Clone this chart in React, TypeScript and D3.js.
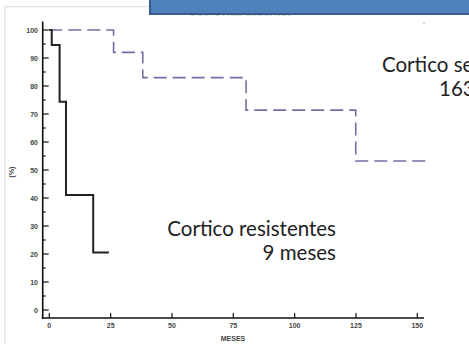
import { useEffect, useRef } from 'react';
import * as d3 from 'd3';

// Kaplan-Meier steps (months, % surviving)
const resistMonths = [0, 1, 4.2, 6.8, 17.9, 24.3];
const resistPct = [100, 94.6, 74.4, 41.1, 20.5, 20.5];
const sensMonths = [0, 26.2, 38.1, 80.2, 124.9, 155.2];
const sensPct = [100, 92.0, 83.0, 71.4, 53.2, 53.2];

const xTicks = [0, 25, 50, 75, 100, 125, 150];
const yTicks = [0, 10, 20, 30, 40, 50, 60, 70, 80, 90, 100];
const yMinor = [5, 15, 25, 35, 45, 55, 65, 75, 85, 95];

const W = 469;
const H = 344;

export default function App() {
  const ref = useRef<SVGSVGElement>(null);

  useEffect(() => {
    const svg = d3.select(ref.current);
    svg.selectAll('*').remove();

    const x = d3.scaleLinear().domain([0, 150]).range([49.3, 417.3]);
    const y = d3.scaleLinear().domain([0, 100]).range([310, 30]);
    const axisY = 318;
    const axisX = 42.7;

    svg.append('rect').attr('width', W).attr('height', H).attr('fill', '#fff');

    // slide frame
    svg
      .append('path')
      .attr('d', `M5,${H} V6.7 H${W}`)
      .attr('fill', 'none')
      .attr('stroke', '#d9d9d9')
      .attr('stroke-width', 1);

    // y axis
    svg
      .append('line')
      .attr('x1', axisX)
      .attr('x2', axisX)
      .attr('y1', 21.5)
      .attr('y2', axisY + 1)
      .attr('stroke', '#111')
      .attr('stroke-width', 1.6);

    svg
      .append('g')
      .selectAll('line')
      .data(yTicks)
      .join('line')
      .attr('x1', axisX)
      .attr('x2', axisX + 6)
      .attr('y1', d => y(d))
      .attr('y2', d => y(d))
      .attr('stroke', '#111')
      .attr('stroke-width', 1.2);

    svg
      .append('g')
      .selectAll('line')
      .data(yMinor)
      .join('line')
      .attr('x1', axisX)
      .attr('x2', axisX + 3)
      .attr('y1', d => y(d))
      .attr('y2', d => y(d))
      .attr('stroke', '#111')
      .attr('stroke-width', 1.2);

    const small = 'Liberation Sans, Arial, sans-serif';

    svg
      .append('g')
      .selectAll('text')
      .data(yTicks)
      .join('text')
      .attr('x', 38)
      .attr('y', d => y(d) + 2.5)
      .attr('text-anchor', 'end')
      .attr('font-family', small)
      .attr('font-size', 7)
      .attr('font-weight', 'bold')
      .attr('fill', '#444')
      .text(d => d);

    svg
      .append('text')
      .attr('transform', 'translate(14,172) rotate(-90)')
      .attr('text-anchor', 'middle')
      .attr('font-family', small)
      .attr('font-size', 7)
      .attr('font-weight', 'bold')
      .attr('fill', '#444')
      .text('(%)');

    // x axis
    svg
      .append('line')
      .attr('x1', axisX - 0.8)
      .attr('x2', 424)
      .attr('y1', axisY)
      .attr('y2', axisY)
      .attr('stroke', '#111')
      .attr('stroke-width', 1.6);

    svg
      .append('g')
      .selectAll('line')
      .data(xTicks)
      .join('line')
      .attr('x1', d => x(d))
      .attr('x2', d => x(d))
      .attr('y1', axisY)
      .attr('y2', axisY - 5)
      .attr('stroke', '#111')
      .attr('stroke-width', 1.2);

    svg
      .append('g')
      .selectAll('text')
      .data(xTicks)
      .join('text')
      .attr('x', d => x(d))
      .attr('y', 328)
      .attr('text-anchor', 'middle')
      .attr('font-family', small)
      .attr('font-size', 7)
      .attr('font-weight', 'bold')
      .attr('fill', '#444')
      .text(d => d);

    svg
      .append('text')
      .attr('x', 233)
      .attr('y', 340.5)
      .attr('text-anchor', 'middle')
      .attr('font-family', small)
      .attr('font-size', 7)
      .attr('font-weight', 'bold')
      .attr('fill', '#444')
      .text('MESES');

    const step = d3
      .line<number>()
      .x(d => x(d))
      .curve(d3.curveStepAfter);

    svg
      .append('path')
      .attr('d', step.y((_, i) => y(sensPct[i]))(sensMonths))
      .attr('fill', 'none')
      .attr('stroke', '#7070a6')
      .attr('stroke-width', 1.6)
      .attr('stroke-dasharray', '13,6');

    svg
      .append('path')
      .attr('d', step.y((_, i) => y(resistPct[i]))(resistMonths))
      .attr('fill', 'none')
      .attr('stroke', '#222')
      .attr('stroke-width', 2);

    const font = 'Lato, Calibri, sans-serif';
    const big = 20.5;
    svg
      .append('text')
      .attr('x', 336)
      .attr('y', 236)
      .attr('text-anchor', 'end')
      .attr('font-family', font)
      .attr('font-size', big)
      .attr('fill', '#222')
      .text('Cortico resistentes');
    svg
      .append('text')
      .attr('x', 336)
      .attr('y', 260)
      .attr('text-anchor', 'end')
      .attr('font-family', font)
      .attr('font-size', big)
      .attr('fill', '#222')
      .text('9 meses');

    // this label runs past the right edge in the reference slide
    svg
      .append('text')
      .attr('x', 382)
      .attr('y', 72)
      .attr('font-family', font)
      .attr('font-size', big)
      .attr('fill', '#222')
      .text('Cortico sensibles');
    svg
      .append('text')
      .attr('x', 439)
      .attr('y', 96)
      .attr('font-family', font)
      .attr('font-size', big)
      .attr('fill', '#222')
      .text('163 meses');

    // faint title text peeking below the box
    svg
      .append('text')
      .attr('x', 190)
      .attr('y', 16)
      .attr('font-family', font)
      .attr('font-size', 12)
      .attr('fill', '#d4d4d4')
      .text('Sobrevida ausentes');

    // overlapping title box
    svg
      .append('rect')
      .attr('x', 150)
      .attr('y', -3)
      .attr('width', W - 148)
      .attr('height', 17)
      .attr('fill', '#4f81bd')
      .attr('stroke', '#385d8a')
      .attr('stroke-width', 2);

    svg
      .append('circle')
      .attr('cx', 424)
      .attr('cy', 23)
      .attr('r', 0.8)
      .attr('fill', '#999');
  }, []);

  return (
    <svg
      ref={ref}
      width={W}
      height={H}
      style={{ position: 'absolute', left: 0, top: 0 }}
    />
  );
}
